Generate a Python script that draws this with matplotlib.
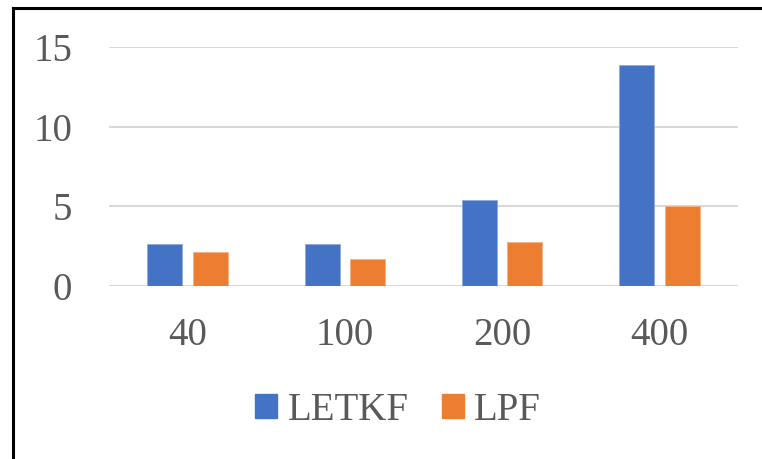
import numpy as np
import matplotlib.pyplot as plt
from matplotlib.lines import Line2D
from matplotlib.patches import Patch

categories = ["40", "100", "200", "400"]
letkf = [2.64, 2.64, 5.4, 13.85]
lpf = [2.12, 1.68, 2.75, 5.05]
yticks = [0, 5, 10, 15]

blue = "#4472C4"
orange = "#ED7D31"
gray = "#595959"

plt.rcParams['font.family'] = ['Liberation Serif', 'DejaVu Serif']

fig = plt.figure(figsize=(7.62, 4.59), dpi=100)
ax = fig.add_axes([109/762, 1-286/459, (738-109)/762, (286-47)/459])

x = np.arange(len(categories))
w = 0.223
ax.bar(x - 0.145, letkf, w, color=blue, edgecolor="#8FAADC", linewidth=0.6, zorder=3)
ax.bar(x + 0.145, lpf, w, color=orange, edgecolor="#F4B183", linewidth=0.6, zorder=3)

ax.set_xlim(-0.5, 3.5)
ax.set_ylim(0, 15)
ax.set_yticks(yticks)
ax.set_xticks(x)
ax.set_xticklabels(categories)
ax.grid(axis="y", color="#D9D9D9", linewidth=1.5, zorder=0)
for s in ax.spines.values():
    s.set_visible(False)
ax.tick_params(length=0, labelsize=28, colors=gray)
ax.tick_params(axis="x", pad=22)
ax.tick_params(axis="y", pad=26.5)

handles = [Patch(color=blue, label="LETKF"), Patch(color=orange, label="LPF")]
leg = fig.legend(handles=handles, loc="center", bbox_to_anchor=(398/762, 1-410/459),
                 ncol=2, frameon=False, fontsize=28, handlelength=0.57, handleheight=0.57,
                 handletextpad=0.26, columnspacing=0.85, labelcolor=gray)

# outer frame (top and left edges visible)
fig.add_artist(Line2D([13/762, 13/762], [0, 1-8/459], color="black", linewidth=2.2))
fig.add_artist(Line2D([13/762, 1], [1-8/459, 1-8/459], color="black", linewidth=2.2))

fig.savefig("out.png", dpi=100)
